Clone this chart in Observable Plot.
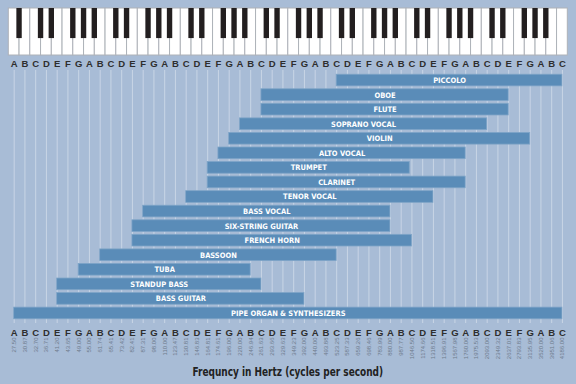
<!DOCTYPE html>
<html>
<head>
<meta charset="utf-8">
<script src="https://cdn.jsdelivr.net/npm/d3@7"></script>
<script src="https://cdn.jsdelivr.net/npm/@observablehq/plot@0.6"></script>
<style>
  html, body { margin: 0; padding: 0; background: #a8bcd6; }
  #chart { position: relative; width: 576px; height: 384px; background: #a8bcd6; overflow: hidden; }
  #kb, #bars { position: absolute; left: 0; top: 0; }
  #titlewrap { position: absolute; left: 0; top: 362px; width: 576px; text-align: center; }
  #title { display: inline-block; transform-origin: center; transform: scaleX(0.83);
    font-family: "Liberation Sans Narrow", "DejaVu Sans Condensed", sans-serif; font-weight: bold;
    font-size: 12px; line-height: 12px; color: #222; white-space: nowrap; }
</style>
</head>
<body>
<div id="chart">
  <div id="kb"></div>
  <div id="bars"></div>
  <div id="titlewrap"><span id="title">Frequncy in Hertz (cycles per second)</span></div>
</div>
<script>
// ---- data ----
const noteLetters = ["A","B","C","D","E","F","G","A","B","C","D","E","F","G","A","B","C","D","E","F","G",
  "A","B","C","D","E","F","G","A","B","C","D","E","F","G","A","B","C","D","E","F","G",
  "A","B","C","D","E","F","G","A","B","C"];
const frequencies = ["27.50","30.87","32.70","36.71","41.20","43.65","49.00","55.00","61.74","65.41",
  "73.42","82.41","87.31","98.00","110.00","123.47","130.81","146.83","164.81","174.61","196.00",
  "220.00","246.94","261.63","293.66","329.63","349.23","392.00","440.00","493.88","523.25",
  "587.33","659.26","698.46","783.99","880.00","987.77","1046.50","1174.66","1318.51","1396.91",
  "1567.98","1760.00","1975.53","2093.00","2349.32","2637.01","2793.83","3135.95","3520.00",
  "3951.06","4186.00"];
// black keys sit after these letters
const blackAfter = ["A","C","D","F","G"];
// instrument ranges in white-key steps (0 = A0, 51 = C8)
const instruments = ["Piccolo","Oboe","Flute","Soprano Vocal","Violin","Alto Vocal","Trumpet","Clarinet",
  "Tenor Vocal","Bass Vocal","Six-String Guitar","French Horn","Bassoon","Tuba","Standup Bass",
  "Bass Guitar","Pipe Organ & Synthesizers"];
const rangeLow  = [30, 23, 23, 21, 20, 19, 18, 18, 16, 12, 11, 11, 8, 6, 4, 4, 0];
const rangeHigh = [51, 46, 46, 44, 48, 42, 36.8, 42, 39, 35, 35, 37, 30, 22, 23, 27, 51];

// ---- derived tables ----
const keys = noteLetters.map((letter, i) => ({i, letter, freq: frequencies[i]}));
const blackKeys = keys.filter(k => k.i < keys.length - 1 && blackAfter.includes(k.letter));
const bars = instruments.map((name, j) => ({name, lo: rangeLow[j], hi: rangeHigh[j]}));

const W = 576;
const xOpts = {domain: [-0.5, noteLetters.length - 0.5], axis: null};
const mL = 8.3, mR = 8.7;
const letterFont = "Liberation Sans, Arial, sans-serif";
const narrow = "Liberation Sans Narrow, DejaVu Sans Condensed, sans-serif";
const blackKeyDepth = 0.64;

const kb = Plot.plot({
  width: W, height: 70,
  marginLeft: mL, marginRight: mR, marginTop: 8, marginBottom: 15,
  style: {background: "transparent", overflow: "visible"},
  x: xOpts,
  y: {domain: [0, 1], axis: null},
  marks: [
    Plot.rect(keys, {x1: d => d.i - 0.5, x2: d => d.i + 0.5, y1: 0, y2: 1,
      fill: "#ffffff", stroke: "#aeb2b8", strokeWidth: 1}),
    Plot.rect(blackKeys, {x1: d => d.i + 0.25, x2: d => d.i + 0.75, y1: 1 - blackKeyDepth, y2: 1,
      fill: "#231f20"}),
    Plot.text(keys, {x: "i", text: "letter", frameAnchor: "bottom", dy: 8, lineAnchor: "middle",
      fill: "#2e2e2e", fontSize: 9.5, fontWeight: "bold", fontFamily: letterFont})
  ]
});
document.getElementById("kb").appendChild(kb);

const chart = Plot.plot({
  width: W, height: 384,
  marginLeft: mL, marginRight: mR, marginTop: 70, marginBottom: 61,
  style: {background: "transparent", overflow: "visible"},
  x: xOpts,
  y: {domain: instruments, axis: null, paddingInner: 0.2, paddingOuter: 0.29, round: false},
  marks: [
    Plot.ruleX(keys, {x: "i", stroke: "#c8d5e6", strokeWidth: 1}),
    Plot.barX(bars, {x1: "lo", x2: "hi", y: "name", fill: "#5a8cb8",
      stroke: "#7ea4c7", strokeWidth: 0.8}),
    Plot.text(bars, {x: d => (d.lo + d.hi) / 2, y: "name", text: d => d.name.toUpperCase(),
      fill: "#ffffff", fontSize: 7.5, fontWeight: "bold", fontFamily: narrow, lineAnchor: "middle"}),
    Plot.text(keys, {x: "i", text: "letter", frameAnchor: "bottom", dy: 9, lineAnchor: "middle",
      fill: "#2e2e2e", fontSize: 9.5, fontWeight: "bold", fontFamily: letterFont}),
    Plot.text(keys, {x: "i", text: "freq", frameAnchor: "bottom", dy: 14, rotate: -90,
      textAnchor: "end", lineAnchor: "middle", fill: "#6e7b8c", fontSize: 6, fontFamily: letterFont})
  ]
});
document.getElementById("bars").appendChild(chart);
</script>
</body>
</html>
